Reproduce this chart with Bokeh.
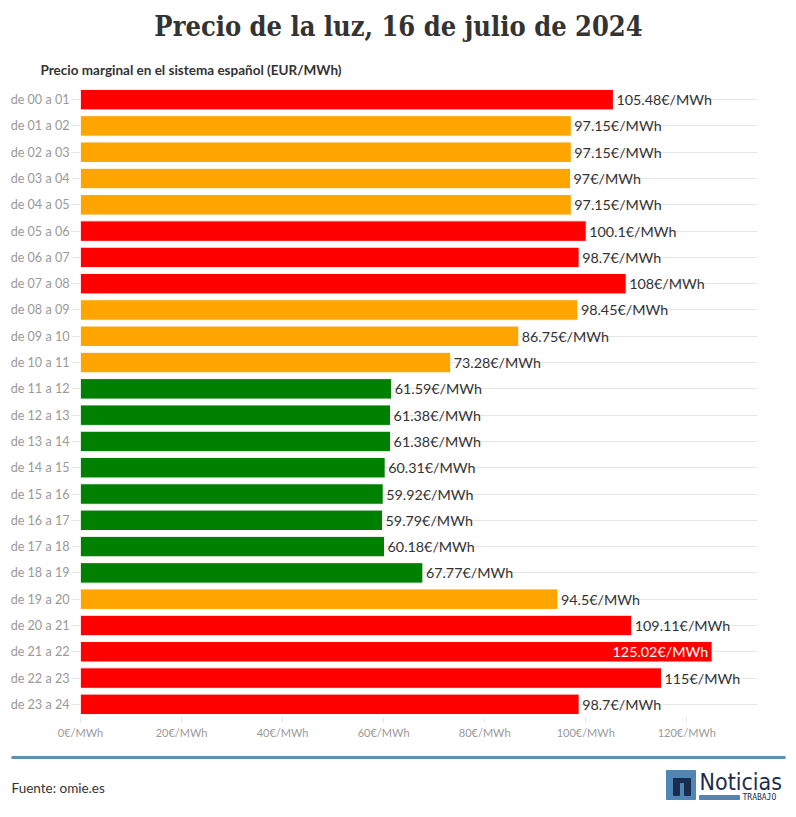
from bokeh.plotting import figure
from bokeh.models import ColumnDataSource, FactorRange, FixedTicker, PrintfTickFormatter, Range1d
from bokeh.core.properties import value
from bokeh.embed import file_html
from bokeh.resources import INLINE

# ---- data ----
hours = ["de 00 a 01", "de 01 a 02", "de 02 a 03", "de 03 a 04", "de 04 a 05", "de 05 a 06",
         "de 06 a 07", "de 07 a 08", "de 08 a 09", "de 09 a 10", "de 10 a 11", "de 11 a 12",
         "de 12 a 13", "de 13 a 14", "de 14 a 15", "de 15 a 16", "de 16 a 17", "de 17 a 18",
         "de 18 a 19", "de 19 a 20", "de 20 a 21", "de 21 a 22", "de 22 a 23", "de 23 a 24"]
prices = [105.48, 97.15, 97.15, 97.0, 97.15, 100.1, 98.7, 108.0, 98.45, 86.75, 73.28, 61.59,
          61.38, 61.38, 60.31, 59.92, 59.79, 60.18, 67.77, 94.5, 109.11, 125.02, 115.0, 98.7]
x_ticks = [0, 20, 40, 60, 80, 100, 120]
title_text = "Precio de la luz, 16 de julio de 2024"
subtitle_text = "Precio marginal en el sistema español (EUR/MWh)"
source_text = "Fuente: omie.es"

RED, ORANGE, GREEN = "#ff0000", "#ffa500", "#008000"

# colour by tercile of price (top 8 red, middle 8 orange, bottom 8 green)
order = sorted(range(len(prices)), key=lambda i: -prices[i])
colors = [None] * len(prices)
for rank, i in enumerate(order):
    colors[i] = RED if rank < 8 else (ORANGE if rank < 16 else GREEN)

labels = [f"{v:g}€/MWh" for v in prices]
vmax = max(prices)
inside = [v == vmax for v in prices]

W = 796
FONT = "Lato"

# ---- header ----
head = figure(width=W, height=84, x_range=Range1d(0, W), y_range=Range1d(84, 0),
              output_backend="svg", toolbar_location=None, min_border=0,
              x_axis_location=None, y_axis_location=None, outline_line_color=None)
head.grid.visible = False
head.text(x=[398], y=[26], text=[title_text], text_align="center", text_baseline="middle",
          text_font=value("'DejaVu Serif Condensed', 'DejaVu Serif'"), text_font_style="bold",
          text_font_size="27px", text_color="#333333")
head.text(x=[40], y=[69], text=[subtitle_text], text_align="left", text_baseline="middle",
          text_font=value(FONT), text_font_style="bold", text_font_size="13.5px",
          text_color="#333333")

# ---- main chart ----
src = ColumnDataSource(dict(
    hour=hours, price=prices, color=colors,
    lab_out=[l if not ins else "" for l, ins in zip(labels, inside)],
    lab_in=[l if ins else "" for l, ins in zip(labels, inside)],
))

p = figure(width=W, height=663, y_range=FactorRange(*reversed(hours)), x_range=Range1d(0, 134),
           output_backend="svg", toolbar_location=None,
           min_border_left=80, min_border_right=39, min_border_top=2, min_border_bottom=30,
           outline_line_color=None)
p.hbar(y="hour", right="price", left=0, height=0.78, color="color", line_color="white",
       line_width=1, source=src)
p.text(x="price", y="hour", text="lab_out", source=src, x_offset=3, text_baseline="middle",
       text_align="left", text_font=value(FONT), text_font_size="14.3px", text_color="#333333")
p.text(x="price", y="hour", text="lab_in", source=src, x_offset=-4, text_baseline="middle",
       text_align="right", text_font=value(FONT), text_font_size="14.3px", text_color="white")

p.xgrid.visible = False
p.ygrid.grid_line_color = "#e6e6e6"
p.ygrid.level = "underlay"

p.xaxis.ticker = FixedTicker(ticks=x_ticks)
p.xaxis.formatter = PrintfTickFormatter(format="%d€/MWh")
p.xaxis.axis_line_color = None
p.xaxis.major_tick_line_color = "#e6e6e6"
p.xaxis.major_tick_out = 5
p.xaxis.major_tick_in = 0
p.xaxis.minor_tick_line_color = None
p.xaxis.major_label_text_color = "#999999"
p.xaxis.major_label_text_font = FONT
p.xaxis.major_label_text_font_size = "11px"
p.xaxis.major_label_standoff = 3

p.yaxis.axis_line_color = None
p.yaxis.major_tick_line_color = "#e6e6e6"
p.yaxis.major_tick_out = 9
p.yaxis.major_tick_in = 0
p.yaxis.major_label_text_color = "#999999"
p.yaxis.major_label_text_font = FONT
p.yaxis.major_label_text_font_size = "12.6px"
p.yaxis.major_label_standoff = 2

# ---- footer ----
FH = 70
foot = figure(width=W, height=FH, x_range=Range1d(0, W), y_range=Range1d(FH, 0),
              output_backend="svg", toolbar_location=None, min_border=0,
              x_axis_location=None, y_axis_location=None, outline_line_color=None)
foot.grid.visible = False
foot.segment(x0=[11], y0=[10], x1=[785], y1=[10], line_color="#5f8fb0", line_width=3)
foot.text(x=[11], y=[40], text=[source_text], text_baseline="middle", text_font=value(FONT),
          text_font_size="13.5px", text_color="#333333")
# logo
foot.quad(left=[666], right=[695], top=[23], bottom=[52], color="#4f86b5")
foot.quad(left=[673], right=[679], top=[31], bottom=[48], color="#1b2d4f")
foot.quad(left=[684], right=[690], top=[33], bottom=[48], color="#1b2d4f")
foot.quad(left=[673], right=[690], top=[31], bottom=[35], color="#1b2d4f")
foot.text(x=[699], y=[34], text=["Noticias"], text_baseline="middle",
          text_font=value("'DejaVu Sans Condensed', 'DejaVu Sans'"),
          text_font_size="23px", text_color="#1b2d4f")
foot.quad(left=[699], right=[739], top=[48], bottom=[52], color="#4f86b5")
foot.text(x=[742], y=[50], text=["TRABAJO"], text_baseline="middle",
          text_font=value("DejaVu Sans Mono"), text_font_size="8px", text_color="#1b2d4f")

open("out.html", "w").write(file_html([head, p, foot], INLINE))
